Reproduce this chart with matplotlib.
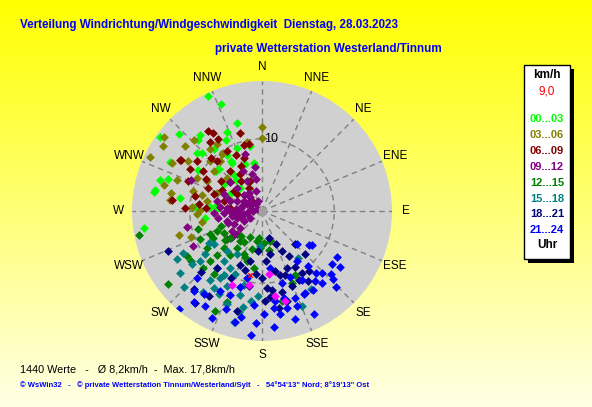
import numpy as np
import matplotlib
matplotlib.use('Agg')
import matplotlib.pyplot as plt
from matplotlib.patches import Rectangle

plt.rcParams['font.family'] = ['Liberation Sans', 'DejaVu Sans']

W, H = 592, 407

compass = ['N', 'NNE', 'NE', 'ENE', 'E', 'ESE', 'SE', 'SSE',
           'S', 'SSW', 'SW', 'WSW', 'W', 'WNW', 'NW', 'NNW']

hour_labels = ['00...03', '03...06', '06...09', '09...12',
               '12...15', '15...18', '18...21', '21...24']
hour_colors = ['#00ff00', '#808000', '#800000', '#800080',
               '#008000', '#008080', '#000080', '#0000ff']

# wind direction (deg) and speed (km/h), one pair of lists per 3-hour block
dir_00 = [335, 339, 344, 321, 318, 313, 306, 336, 298, 281, 262, 289, 303, 322, 328,
          338, 340, 351, 311, 328, 317, 305, 298, 274, 263, 273, 336, 322, 350, 333,
          350, 287, 280, 279, 312, 314, 314, 320, 328, 274, 278]
spd_00 = [17.6, 15.8, 12.7, 13.6, 13.2, 15.7, 17.5, 11.9, 14.4, 15.1, 16.5, 13.8, 10.5, 10.9, 9.1,
          9.4, 6.9, 6.3, 8.4, 8.2, 4.4, 6.5, 5.0, 6.3, 7.9, 9.3, 4.6, 6.4, 9.2, 11.0,
          6.7, 14.8, 15.2, 11.5, 12.1, 11.6, 8.3, 5.6, 7.9, 7.2, 6.3]

dir_03 = [0, 296, 303, 307, 298, 285, 281, 277, 254, 250, 316, 310, 290, 297, 299,
          286, 285, 310, 320, 314, 267, 260, 280, 292, 325, 326, 320, 313, 273, 304,
          348, 320, 271, 0]
spd_03 = [11.6, 17.2, 16.4, 17.0, 14.1, 14.0, 12.8, 12.8, 12.0, 10.5, 13.6, 13.9, 12.5, 10.1, 8.7,
          9.9, 8.6, 8.7, 9.0, 10.0, 9.0, 8.4, 7.8, 6.7, 9.6, 11.2, 11.2, 6.7, 9.7, 12.3,
          9.7, 9.1, 8.6, 10.1]

dir_06 = [344, 344.5, 349, 328, 328.6, 326, 323, 302, 277, 300, 302, 272.5, 276, 273.5, 321.6,
          329.4, 330, 339, 305, 285, 289, 304, 307.6, 330, 341, 318, 304, 315, 276, 306,
          293.6, 335, 312, 298, 320, 300, 283, 316, 335, 292, 325]
spd_06 = [11.2, 9.5, 9.5, 12.7, 11.6, 13.4, 11.9, 13.2, 12.6, 11.5, 13.4, 10.7, 8.8, 7.7, 7.1,
          5.9, 3.7, 4.5, 4.8, 5.5, 7.1, 9.8, 11.4, 9.6, 7.8, 9.3, 4.2, 2.0, 4.4, 7.1,
          8.1, 8.5, 6.0, 6.3, 3.0, 9.0, 9.5, 10.2, 6.8, 11.0, 5.0]

dir_09 = [343.6, 351, 350, 293.5, 258, 243, 232, 294, 279, 270, 267.5, 255, 245, 232, 241,
          240, 270, 290, 319, 312, 292, 287.5, 275, 275, 261, 254, 342, 340, 333, 345,
          335, 313, 293.5, 282.5, 268, 264, 266, 260, 299, 310, 324, 236, 227, 312,
          280, 300, 260, 250, 285, 305, 275, 265, 250, 230, 320, 290]
spd_09 = [8.2, 6.1, 4.5, 10.7, 10.6, 10.7, 6.2, 2.3, 3.0, 4.4, 5.3, 3.6, 4.3, 3.8, 2.9,
          1.9, 1.2, 0.8, 2.5, 3.4, 3.7, 4.6, 4.9, 5.8, 6.1, 5.1, 2.9, 1.5, 4.7, 5.3,
          6.1, 4.7, 5.8, 6.4, 6.7, 2.1, 3.2, 4.2, 2.9, 1.8, 3.1, 5.0, 4.7, 5.9,
          1.5, 1.8, 2.5, 3.0, 2.8, 2.2, 3.6, 4.0, 5.0, 5.5, 1.2, 5.0]

dir_12 = [259, 254, 245.5, 234.5, 232, 239, 246, 241, 240.5, 230, 216, 204, 189.5, 177, 164.5,
          226, 216, 214, 203, 226, 226, 236, 197, 205, 201, 153, 157.7, 188, 217, 226,
          246, 187, 183, 167.5, 220, 195, 210, 232, 200, 170, 250]
spd_12 = [17.3, 9.2, 9.5, 12.0, 16.5, 12.1, 6.8, 7.7, 6.1, 5.8, 5.1, 4.0, 4.2, 4.4, 4.3,
          7.4, 7.5, 6.2, 6.5, 8.7, 10.0, 9.2, 7.2, 15.3, 13.5, 10.0, 10.8, 7.9, 11.0, 11.3,
          7.9, 3.8, 5.1, 12.8, 4.5, 5.5, 5.0, 6.5, 6.8, 5.5, 6.0]

dir_15 = [242, 240.7, 233, 225.6, 232.7, 231, 232.6, 217, 216, 207.5, 194.4, 193, 191, 205, 218.5,
          217.5, 209, 210, 194, 221, 235.4, 239, 212, 183, 187, 157, 148, 142, 183, 203,
          211, 194.6, 200.5, 212]
spd_15 = [12.4, 13.5, 14.3, 15.1, 12.2, 11.1, 9.9, 11.9, 13.8, 13.0, 15.8, 14.3, 13.6, 11.5, 10.0,
          8.7, 9.0, 6.9, 10.5, 7.4, 8.1, 8.6, 10.9, 11.8, 12.6, 14.3, 12.8, 8.2, 4.9, 9.5,
          10.3, 12.0, 13.8, 12.6]

dir_18 = [166, 158, 153, 149, 135, 135, 147, 151.8, 156, 167.5, 176, 180, 173, 166, 158,
          147, 142, 185, 178, 170, 247, 225, 221, 216, 194, 212, 193, 202, 205, 218.5,
          176, 164, 164.5, 185, 170, 160, 190, 150, 175, 196]
spd_18 = [3.9, 5.0, 6.2, 7.3, 6.5, 8.5, 10.2, 10.8, 8.6, 8.5, 7.0, 9.3, 11.0, 11.5, 11.2,
          11.6, 10.6, 5.6, 12.5, 13.6, 14.2, 12.0, 14.4, 15.7, 14.3, 13.9, 7.1, 8.0, 10.2, 10.0,
          10.7, 9.2, 13.0, 8.8, 6.0, 9.5, 10.5, 9.0, 12.0, 8.5]

dir_21 = [133, 125.5, 124, 121.5, 127, 126, 132.5, 134, 136, 136, 139, 140, 142.7, 147.4, 152,
          153.4, 163, 174, 165.5, 171.6, 159, 164.4, 185, 220, 205, 193.5, 191, 183, 211, 220.5,
          215, 217, 179, 173, 166, 153.4, 157, 196, 201, 207.5, 192.7, 171.6, 145, 224,
          150, 185, 170, 200, 160, 140]
spd_21 = [6.6, 8.0, 8.4, 12.2, 12.2, 13.3, 12.9, 13.6, 14.7, 11.9, 11.3, 13.0, 12.2, 13.0, 12.8,
          16.0, 15.7, 16.2, 13.9, 12.6, 12.9, 10.3, 17.3, 17.8, 16.4, 15.8, 15.0, 15.5, 15.4, 14.6,
          14.1, 15.7, 14.3, 13.5, 12.4, 12.9, 10.0, 11.0, 12.4, 12.5, 9.5, 8.0, 8.5, 12.9,
          11.0, 13.0, 14.5, 14.5, 14.0, 10.0]

# a few extra highlighted readings and the current value
dir_mag = [174, 171, 165.5, 190, 202]
spd_mag = [8.8, 11.9, 12.9, 10.4, 11.0]
dir_now = [191]
spd_now = [9.0]

groups = [(dir_00, spd_00), (dir_03, spd_03), (dir_06, spd_06), (dir_09, spd_09),
          (dir_12, spd_12), (dir_15, spd_15), (dir_18, spd_18), (dir_21, spd_21)]

R_MAX = 18


def fx(px):
    return px / W


def fy(py):
    return 1 - py / H


fig = plt.figure(figsize=(W / 100, H / 100), dpi=100)

# yellow background gradient
bg = fig.add_axes([0, 0, 1, 1])
grad = np.linspace(0, 1, 256)[:, None]
top = np.array([1.0, 1.0, 0.0])
bot = np.array([1.0, 1.0, 0.9])
img = top[None, None, :] * (1 - grad[:, :, None]) + bot[None, None, :] * grad[:, :, None]
bg.imshow(img, aspect='auto', extent=[0, 1, 0, 1])
bg.set_axis_off()

# polar plot
cx, cy, rad = 262, 211, 130
ax = fig.add_axes([fx(cx - rad), fy(cy + rad), 2 * rad / W, 2 * rad / H], projection='polar')
ax.set_theta_zero_location('N')
ax.set_theta_direction(-1)
ax.set_ylim(0, R_MAX)
ax.set_facecolor('#d0d0d0')
ax.spines['polar'].set_visible(False)
ax.set_xticks(np.deg2rad(np.arange(0, 360, 22.5)))
ax.set_xticklabels([])
ax.set_yticks([10])
ax.set_yticklabels([])
ax.grid(color='#808080', linestyle=(0, (4, 3)), linewidth=1)
ax.text(np.deg2rad(2), 10, '10', ha='left', va='center', fontsize=9, zorder=5)

for i, name in enumerate(compass):
    ax.text(np.deg2rad(i * 22.5), R_MAX * 1.105, name, ha='center', va='center',
            fontsize=8.5, clip_on=False)

for (d, s), col in zip(groups, hour_colors):
    ax.scatter(np.deg2rad(d), s, marker='D', s=20, color=col, linewidths=0, zorder=3)
ax.scatter(np.deg2rad(dir_mag), spd_mag, marker='D', s=20, color='#ff00ff', linewidths=0, zorder=3)
ax.scatter(np.deg2rad(dir_now), spd_now, marker='x', s=10, color='#ff0000', linewidths=1, zorder=4)
ax.plot([0], [0], marker='s', ms=4, color='#a0a0a0', zorder=4)

# titles
fig.text(fx(20), fy(25), 'Verteilung Windrichtung/Windgeschwindigkeit  Dienstag, 28.03.2023',
         color='#0000ff', fontsize=8.4, fontweight='bold', ha='left', va='center')
fig.text(fx(215), fy(49), 'private Wetterstation Westerland/Tinnum',
         color='#0000ff', fontsize=8.4, fontweight='bold', ha='left', va='center')

# legend box with shadow
bx0, by0, bx1, by1 = 524, 65, 570, 259
fig.patches.append(Rectangle((fx(bx0 + 4), fy(by1 + 4)), (bx1 - bx0) / W, (by1 - by0) / H,
                             transform=fig.transFigure, facecolor='black', edgecolor='none', zorder=5))
fig.patches.append(Rectangle((fx(bx0), fy(by1)), (bx1 - bx0) / W, (by1 - by0) / H,
                             transform=fig.transFigure, facecolor='white', edgecolor='black',
                             linewidth=1, zorder=6))
lx = fx(547)
fig.text(lx, fy(75), 'km/h', fontsize=8.5, fontweight='bold', ha='center', va='center', zorder=7)
fig.text(lx, fy(92), '9,0', fontsize=8.5, color='#ff0000', ha='center', va='center', zorder=7)
for i, (lab, col) in enumerate(zip(hour_labels, hour_colors)):
    fig.text(lx, fy(119 + i * 15.9), lab, fontsize=8, fontweight='bold', color=col,
             ha='center', va='center', zorder=7)
fig.text(lx, fy(245), 'Uhr', fontsize=8.5, fontweight='bold', ha='center', va='center', zorder=7)

# footer
fig.text(fx(20), fy(369), '1440 Werte   -   Ø 8,2km/h  -  Max. 17,8km/h',
         fontsize=7.8, ha='left', va='center')
fig.text(fx(20), fy(385),
         '© WsWin32   -   © private Wetterstation Tinnum/Westerland/Sylt   -   54°54\'13" Nord; 8°19\'13" Ost',
         fontsize=5.5, fontweight='bold', color='#0000ff', ha='left', va='center')

fig.savefig('out.png', dpi=100)
